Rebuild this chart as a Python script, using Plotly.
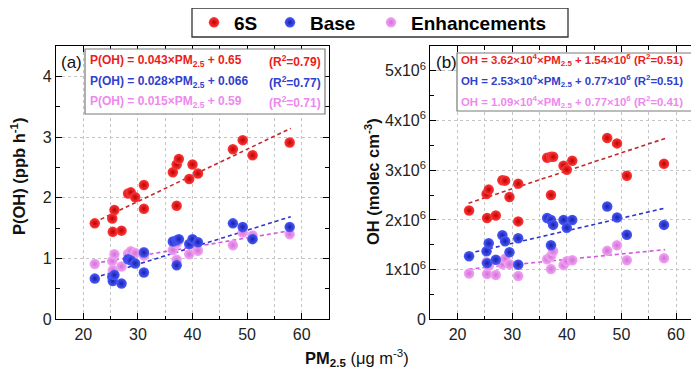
import plotly.graph_objects as go

W, H = 699, 374
OFF = 8  # page body margin in the viewer

# ---------------- data ----------------
pm25 = [22.1, 25.3, 25.4, 25.7, 27.0, 28.2, 28.7, 29.5, 31.1, 31.1, 36.4,
        37.1, 37.1, 37.5, 39.4, 40.0, 41.0, 47.4, 49.2, 51.0, 57.8]

# panel (a): P(OH), ppb h-1
poh_6s = [1.58, 1.66, 1.44, 1.80, 1.46, 2.07, 2.09, 2.01, 2.21, 1.82, 2.42,
          2.55, 1.87, 2.64, 2.31, 2.55, 2.40, 2.80, 2.95, 2.70, 2.91]
poh_base = [0.67, 0.70, 0.63, 0.73, 0.59, 0.99, 0.97, 0.92, 1.10, 0.77, 1.28,
            1.30, 0.89, 1.32, 1.24, 1.32, 1.27, 1.58, 1.52, 1.32, 1.52]
poh_enh = [0.91, 0.96, 0.81, 1.07, 0.87, 1.08, 1.12, 1.09, 1.11, 1.05, 1.14,
           1.25, 0.98, 1.31, 1.07, 1.23, 1.13, 1.22, 1.43, 1.38, 1.40]

# panel (b): OH, molec cm-3 (x 1e6)
oh_6s = [2.19, 2.52, 2.04, 2.61, 2.09, 2.80, 2.79, 2.46, 2.73, 1.97, 3.25,
         3.27, 2.50, 3.27, 3.09, 3.01, 3.19, 3.65, 3.54, 2.89, 3.13]
oh_base = [1.27, 1.37, 1.13, 1.53, 1.20, 1.69, 1.57, 1.35, 1.63, 1.10, 2.04,
           2.00, 1.49, 1.90, 2.00, 1.84, 2.00, 2.27, 2.05, 1.70, 1.90]
oh_enh = [0.92, 1.15, 0.91, 1.08, 0.89, 1.11, 1.22, 1.11, 1.10, 0.87, 1.21,
          1.27, 1.01, 1.37, 1.09, 1.17, 1.19, 1.38, 1.49, 1.19, 1.23]

series_names = ["6S", "Base", "Enhancements"]

# linear fits (slope, intercept)
fit_a_slope = [0.043, 0.028, 0.015]
fit_a_inter = [0.65, 0.066, 0.59]
fit_b_slope = [3.62e4, 2.53e4, 1.09e4]
fit_b_inter = [1.54e6, 0.77e6, 0.77e6]
fit_x_range = [22, 58]

eq_a = ["P(OH) = 0.043×PM<sub>2.5</sub> + 0.65",
        "P(OH) = 0.028×PM<sub>2.5</sub> + 0.066",
        "P(OH) = 0.015×PM<sub>2.5</sub> + 0.59"]
r2_a = ["(R<sup>2</sup>=0.79)", "(R<sup>2</sup>=0.77)", "(R<sup>2</sup>=0.71)"]
eq_b = ["OH = 3.62×10<sup>4</sup>×PM<sub>2.5</sub> + 1.54×10<sup>6</sup>",
        "OH = 2.53×10<sup>4</sup>×PM<sub>2.5</sub> + 0.77×10<sup>6</sup>",
        "OH = 1.09×10<sup>4</sup>×PM<sub>2.5</sub> + 0.77×10<sup>6</sup>"]
r2_b = ["(R<sup>2</sup>=0.51)", "(R<sup>2</sup>=0.51)", "(R<sup>2</sup>=0.41)"]

x_tickvals = [20, 30, 40, 50, 60]
x_minorvals = [15, 25, 35, 45, 55, 65]
y1_tickvals = [0, 1, 2, 3, 4]
y1_minorvals = [0.5, 1.5, 2.5, 3.5]
y2_tickvals = [0, 1e6, 2e6, 3e6, 4e6, 5e6]
y2_minorvals = [0.5e6, 1.5e6, 2.5e6, 3.5e6, 4.5e6]
y2_ticktext = ["0", "1x10<sup>6</sup>", "2x10<sup>6</sup>", "3x10<sup>6</sup>",
               "4x10<sup>6</sup>", "5x10<sup>6</sup>"]

# ---------------- styles ----------------
mk_color = ["#ff3a3a", "#4a5cff", "#f3a6f3"]
mk_edge = ["#c00000", "#1a1fa8", "#d070d8"]
line_color = ["#c4282c", "#2f36d0", "#d458e0"]
txt_color = ["#ee1c1c", "#3040d0", "#ee88ee"]
FONT = "Liberation Sans, Arial, sans-serif"
GRID = "#c4c4c4"


def px(x):
    return (x - OFF) / W


def py(y):
    return 1 - (y - OFF) / H


fig = go.Figure()

xa = [fit_x_range[0], fit_x_range[1]]
ys_a = [poh_6s, poh_base, poh_enh]
ys_b = [[v * 1e6 for v in oh_6s], [v * 1e6 for v in oh_base], [v * 1e6 for v in oh_enh]]

for i in range(3):
    fig.add_trace(go.Scatter(
        x=xa, y=[fit_a_slope[i] * x + fit_a_inter[i] for x in xa], mode="lines",
        line=dict(color=line_color[i], width=1.6, dash="4px,3px"),
        showlegend=False, hoverinfo="skip", xaxis="x", yaxis="y"))
    fig.add_trace(go.Scatter(
        x=xa, y=[fit_b_slope[i] * x + fit_b_inter[i] for x in xa], mode="lines",
        line=dict(color=line_color[i], width=1.6, dash="4px,3px"),
        showlegend=False, hoverinfo="skip", xaxis="x2", yaxis="y2"))

legend_ids = ["legend", "legend2", "legend3"]
for i in [2, 1, 0]:
    mk = dict(size=10.5, color=mk_color[i], line=dict(width=0),
              gradient=dict(type="radial", color=mk_edge[i]))
    fig.add_trace(go.Scatter(
        x=pm25, y=ys_a[i], mode="markers", marker=mk, name="<b>%s</b>" % series_names[i],
        showlegend=True, legend=legend_ids[i], xaxis="x", yaxis="y"))
    fig.add_trace(go.Scatter(
        x=pm25, y=ys_b[i], mode="markers", marker=mk, name=series_names[i],
        showlegend=False, xaxis="x2", yaxis="y2"))

ydom = [py(319.3), py(46)]
tickfont = dict(family=FONT, size=16, color="#222222")


def axis_cfg(domain, rng, anchor, vals, mirror, minor_vals, minor_grid):
    d = dict(domain=domain, range=rng, anchor=anchor, automargin=False,
             tickmode="array", tickvals=vals,
             ticks="inside", ticklen=6, tickwidth=1.3, tickcolor="#000000",
             showline=True, linecolor="#000000", linewidth=1.3, mirror=mirror,
             showgrid=True, gridcolor=GRID, griddash="3px,3px", gridwidth=1,
             zeroline=False, tickfont=tickfont)
    mn = dict(tickmode="array", tickvals=minor_vals, ticks="inside",
              ticklen=3.5, tickcolor="#000000")
    if minor_grid:
        mn.update(showgrid=True, gridcolor=GRID, griddash="3px,3px", gridwidth=1)
    d["minor"] = mn
    return d


x1dom = [px(56), px(329)]
x2dom = [px(430.3), px(699)]
x2max = 15 + (699 - 430.3) / 5.46

layout_axes = dict(
    xaxis=axis_cfg(x1dom, [15, 65], "y", x_tickvals, "allticks", x_minorvals, True),
    yaxis=axis_cfg(ydom, [0, 4.5], "x", y1_tickvals, "allticks", y1_minorvals, False),
    xaxis2=axis_cfg(x2dom, [15, x2max], "y2", x_tickvals, "allticks", x_minorvals, True),
    yaxis2=axis_cfg(ydom, [0, 5.5e6], "x2", y2_tickvals, False, y2_minorvals, False),
)
layout_axes["yaxis2"]["ticktext"] = y2_ticktext

shapes = []
annotations = []

# legend frame
shapes.append(dict(type="rect", xref="paper", yref="paper",
                   x0=px(192), x1=px(568), y0=py(8), y1=py(37),
                   line=dict(color="#333333", width=1.3), fillcolor="rgba(0,0,0,0)",
                   layer="above"))

# equation boxes
boxes = [(85, 49, 325, 114), (457, 53, 697, 111)]
for (x0, y0, x1, y1) in boxes:
    shapes.append(dict(type="rect", xref="paper", yref="paper",
                       x0=px(x0), x1=px(x1), y0=py(y0), y1=py(y1),
                       line=dict(color="#7a7a7a", width=1.2), fillcolor="white",
                       layer="above"))

line_y = [60.5, 81.5, 102]
for i in range(3):
    annotations.append(dict(x=px(88), y=py(line_y[i]), xref="paper", yref="paper",
                            xanchor="left", yanchor="middle", showarrow=False,
                            text="<b>%s</b>" % eq_a[i],
                            font=dict(family=FONT, size=12, color=txt_color[i])))
    annotations.append(dict(x=px(323), y=py(line_y[i]), xref="paper", yref="paper",
                            xanchor="right", yanchor="middle", showarrow=False,
                            text="<b>%s</b>" % r2_a[i],
                            font=dict(family=FONT, size=12, color=txt_color[i])))
    annotations.append(dict(x=px(459), y=py(line_y[i] - 0.5), xref="paper", yref="paper",
                            xanchor="left", yanchor="middle", showarrow=False,
                            text="<b>%s %s</b>" % (eq_b[i], r2_b[i]),
                            font=dict(family=FONT, size=11.4, color=txt_color[i])))

# panel labels
annotations.append(dict(x=px(71), y=py(62), xref="paper", yref="paper", showarrow=False,
                        xanchor="center", yanchor="middle",
                        text="(a)", font=dict(family=FONT, size=17, color="#111111")))
annotations.append(dict(x=px(446), y=py(62), xref="paper", yref="paper", showarrow=False,
                        xanchor="center", yanchor="middle",
                        text="(b)", font=dict(family=FONT, size=17, color="#111111")))

# axis titles
annotations.append(dict(x=px(18), y=py(176), xref="paper", yref="paper", showarrow=False,
                        xanchor="center", yanchor="middle",
                        textangle=-90, text="<b>P(OH) (ppb h<sup>-1</sup>)</b>",
                        font=dict(family=FONT, size=16.5, color="#111111")))
annotations.append(dict(x=px(372), y=py(182), xref="paper", yref="paper", showarrow=False,
                        xanchor="center", yanchor="middle",
                        textangle=-90, text="<b>OH (molec cm<sup>-3</sup>)</b>",
                        font=dict(family=FONT, size=16.5, color="#111111")))
annotations.append(dict(x=px(357), y=py(358), xref="paper", yref="paper", showarrow=False,
                        xanchor="center", yanchor="middle",
                        text="<b>PM<sub>2.5</sub></b> (μg m<sup>-3</sup>)",
                        font=dict(family=FONT, size=16.5, color="#111111")))

leg_common = dict(orientation="h", xanchor="left", yanchor="middle", y=py(22.5),
                  borderwidth=0, bgcolor="rgba(0,0,0,0)",
                  font=dict(family=FONT, size=19, color="#000000"))
leg_sym_x = [219, 295, 396]

fig.update_layout(
    template="none",
    width=W, height=H, margin=dict(l=0, r=0, t=0, b=0, pad=0, autoexpand=False),
    paper_bgcolor="white", plot_bgcolor="white",
    font=dict(family=FONT, color="#111111"),
    shapes=shapes, annotations=annotations,
    legend=dict(x=px(leg_sym_x[0] - 25), **leg_common),
    legend2=dict(x=px(leg_sym_x[1] - 25), **leg_common),
    legend3=dict(x=px(leg_sym_x[2] - 25), **leg_common),
    **layout_axes,
)

fig.write_html("out.html")
